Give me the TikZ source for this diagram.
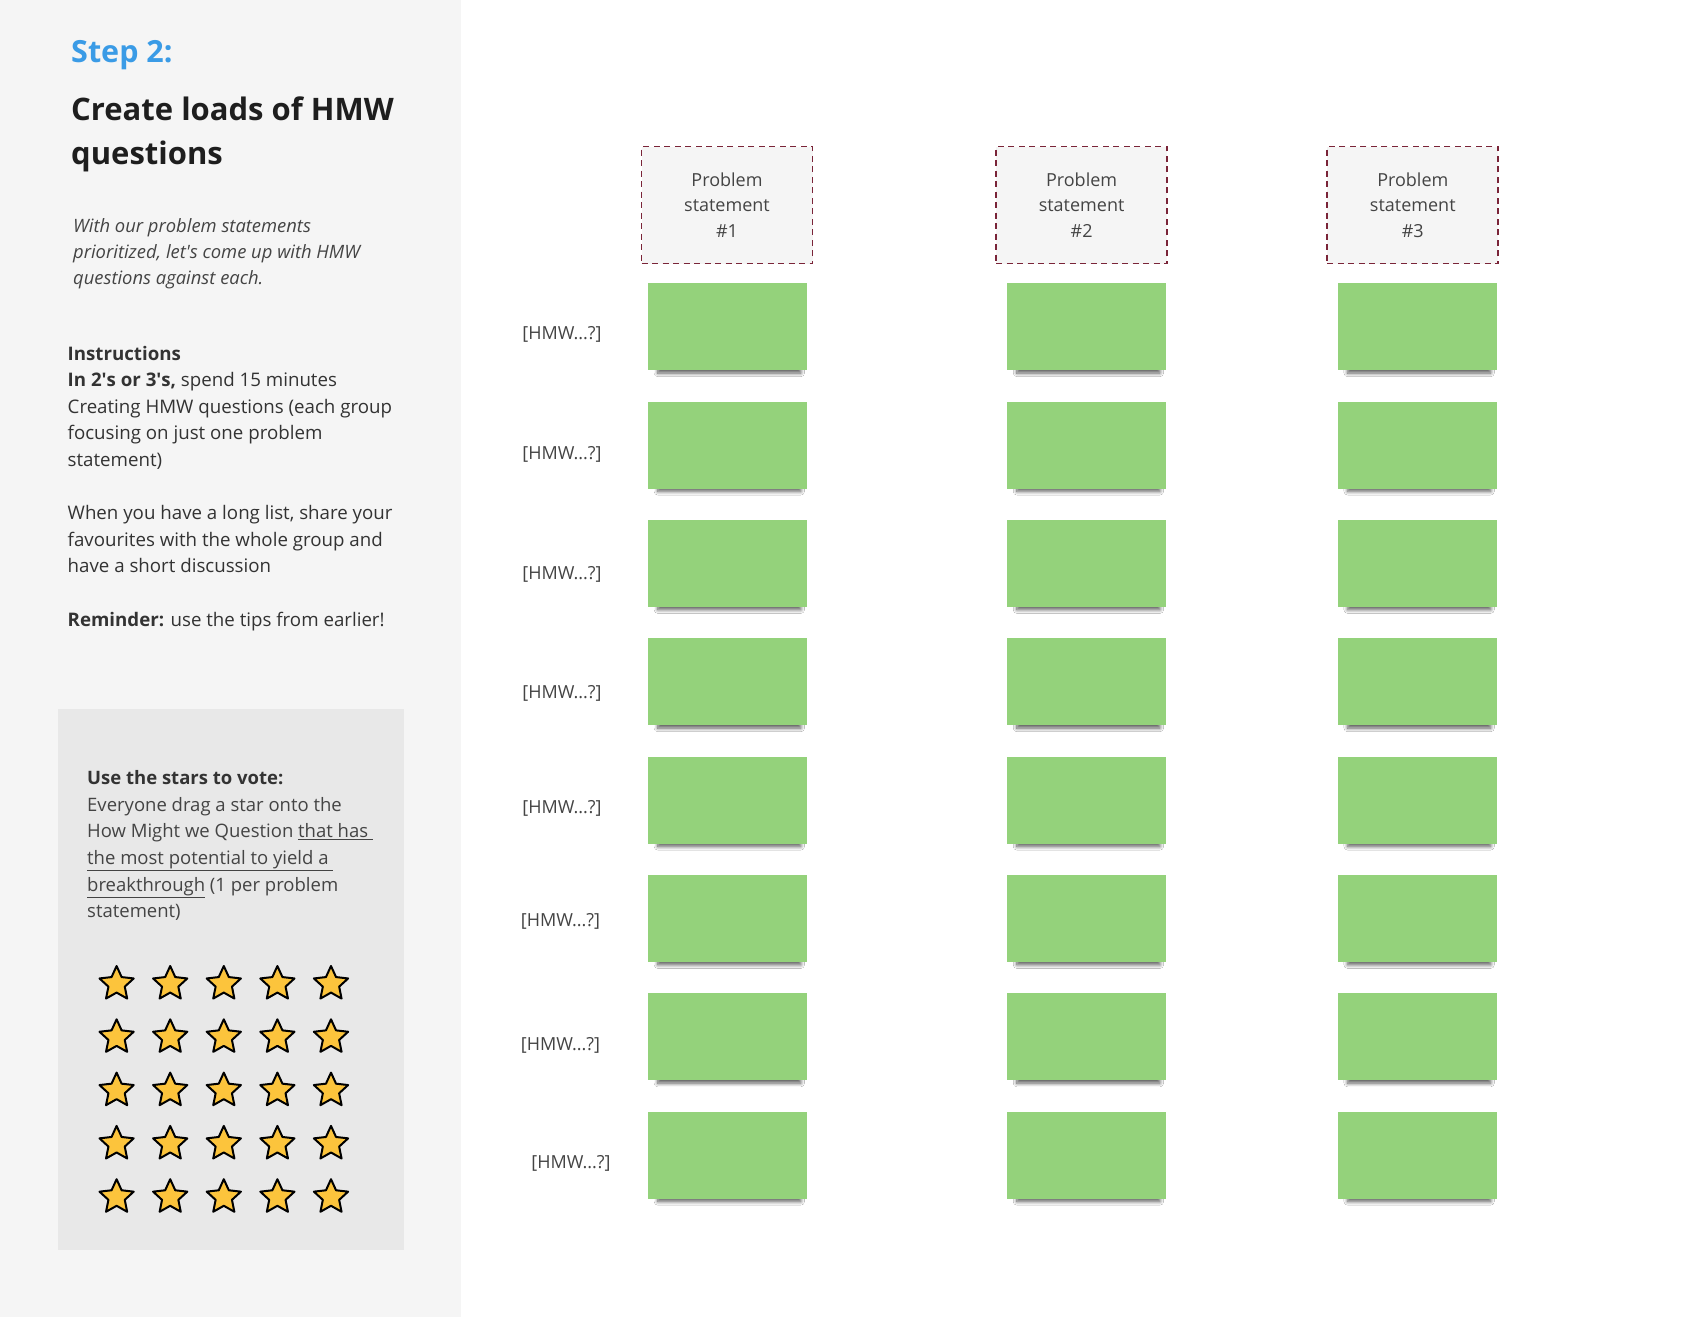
\documentclass[tikz,border=0pt]{standalone}
\usepackage{fontspec}
\setmainfont{Open Sans}
\usetikzlibrary{positioning,shapes.geometric,shadows.blur}

\definecolor{panelgray}{HTML}{F5F5F5}
\definecolor{votegray}{HTML}{E8E8E8}
\definecolor{stepblue}{HTML}{3A9BE6}
\definecolor{titleblack}{HTML}{1E1E1E}
\definecolor{bodytext}{HTML}{333333}
\definecolor{softtext}{HTML}{444444}
\definecolor{probred}{HTML}{7A2438}
\definecolor{stickygreen}{HTML}{94D27B}
\definecolor{staryellow}{HTML}{FCC43C}

\begin{document}
\begin{tikzpicture}[
        x=1pt,y=-1pt,
        paneltext/.style={
            anchor=west,
            align=left,
            inner sep=0pt,
            text=bodytext
        },
        probbox/.style={
            rectangle,
            draw=probred,
            dash pattern=on 6pt off 4.5pt,
            line width=1.8pt,
            fill=panelgray,
            minimum width=171pt,
            minimum height=117pt,
            align=center,
            text=softtext,
            font=\fontsize{18}{25.5}\selectfont
        },
        sticky/.style={
            rectangle,
            fill=stickygreen,
            minimum width=159pt,
            minimum height=87pt,
            outer sep=0pt,
            blur shadow={shadow xshift=2pt, shadow yshift=-8pt,
                shadow scale=0.9, shadow opacity=65, shadow blur radius=4pt,
                shadow blur steps=10}
        },
        hmw/.style={
            text=softtext,
            inner sep=0pt,
            font=\fontsize{18}{20}\selectfont
        },
        votestar/.style={
            star,
            star points=5,
            star point ratio=2.1,
            draw=black,
            fill=staryellow,
            line width=2pt,
            line join=round,
            minimum size=36pt,
            inner sep=0pt
        }
    ]

    \useasboundingbox (0,0) rectangle (1708,1317);
    \fill[white] (0,0) rectangle (1708,1317);

    % left panel
    \fill[panelgray] (0,0) rectangle (461,1317);
    \fill[votegray] (58,709) rectangle (404,1250);

    \node[paneltext, text=stepblue, font=\fontsize{30.5}{36}\selectfont\bfseries] (step) at (71,55) {Step 2:};
    \node[paneltext, text=titleblack, font=\fontsize{31}{43.5}\selectfont\bfseries] (title) at (71,134.3) {
        Create loads of HMW\\
        questions
    };
    \node[paneltext, text=softtext, font=\fontsize{18.4}{26}\selectfont\itshape] (intro) at (73,253.8) {
        With our problem statements\\
        prioritized, let\textquotesingle s come up with HMW\\
        questions against each.
    };
    \node[paneltext, font=\fontsize{18.7}{26.6}\selectfont] (instructions) at (67.5,488.3) {
        \textbf{Instructions}\\
        \textbf{In 2\textquotesingle s or 3\textquotesingle s,} spend 15 minutes\\
        Creating HMW questions (each group\\
        focusing on just one problem\\
        statement)\\
        \mbox{}\\
        When you have a long list, share your\\
        favourites with the whole group and\\
        have a short discussion\\
        \mbox{}\\
        \textbf{Reminder:} use the tips from earlier!
    };
    \node[paneltext, text=softtext, font=\fontsize{18.5}{26.6}\selectfont] (vote) at (87,845.7) {
        \textbf{\color{bodytext}Use the stars to vote:}\\
        Everyone drag a star onto the\\
        How Might we Question \underline{that has\ }\\
        \underline{the most potential to yield a\ }\\
        \underline{breakthrough} (1 per problem\\
        statement)
    };

    % voting stars
    \foreach \i in {0,...,4}
        \foreach \j in {0,...,4}
            \node[votestar] (star\i\j) at (116.6+53.6*\i,984+53.3*\j) {};

    % problem statements
    \node[probbox] (prob1) at (727,205) {Problem\\statement\\\#1};
    \node[probbox] (prob2) at (1081.6,205) {Problem\\statement\\\#2};
    \node[probbox] (prob3) at (1412.8,205) {Problem\\statement\\\#3};

    % sticky notes
    \foreach \c/\xs in {1/0.5,2/5,3/4.5} {
        \node[sticky, below=18.8pt of prob\c, xshift=\xs pt] (note\c-1) {};
        \foreach \r [evaluate=\r as \p using int(\r-1)] in {2,...,8}
            \node[sticky, below=31.35pt of note\c-\p] (note\c-\r) {};
    }

    % HMW labels
    \foreach \r/\lx/\ly in {1/562/334,2/562/454,3/562/574,4/562/693.6,
            5/562/808,6/560.5/921,7/560.5/1045.5,8/571/1163}
        \node[hmw] (hmw\r) at (\lx,\ly) {[HMW...?]};

\end{tikzpicture}
\end{document}
